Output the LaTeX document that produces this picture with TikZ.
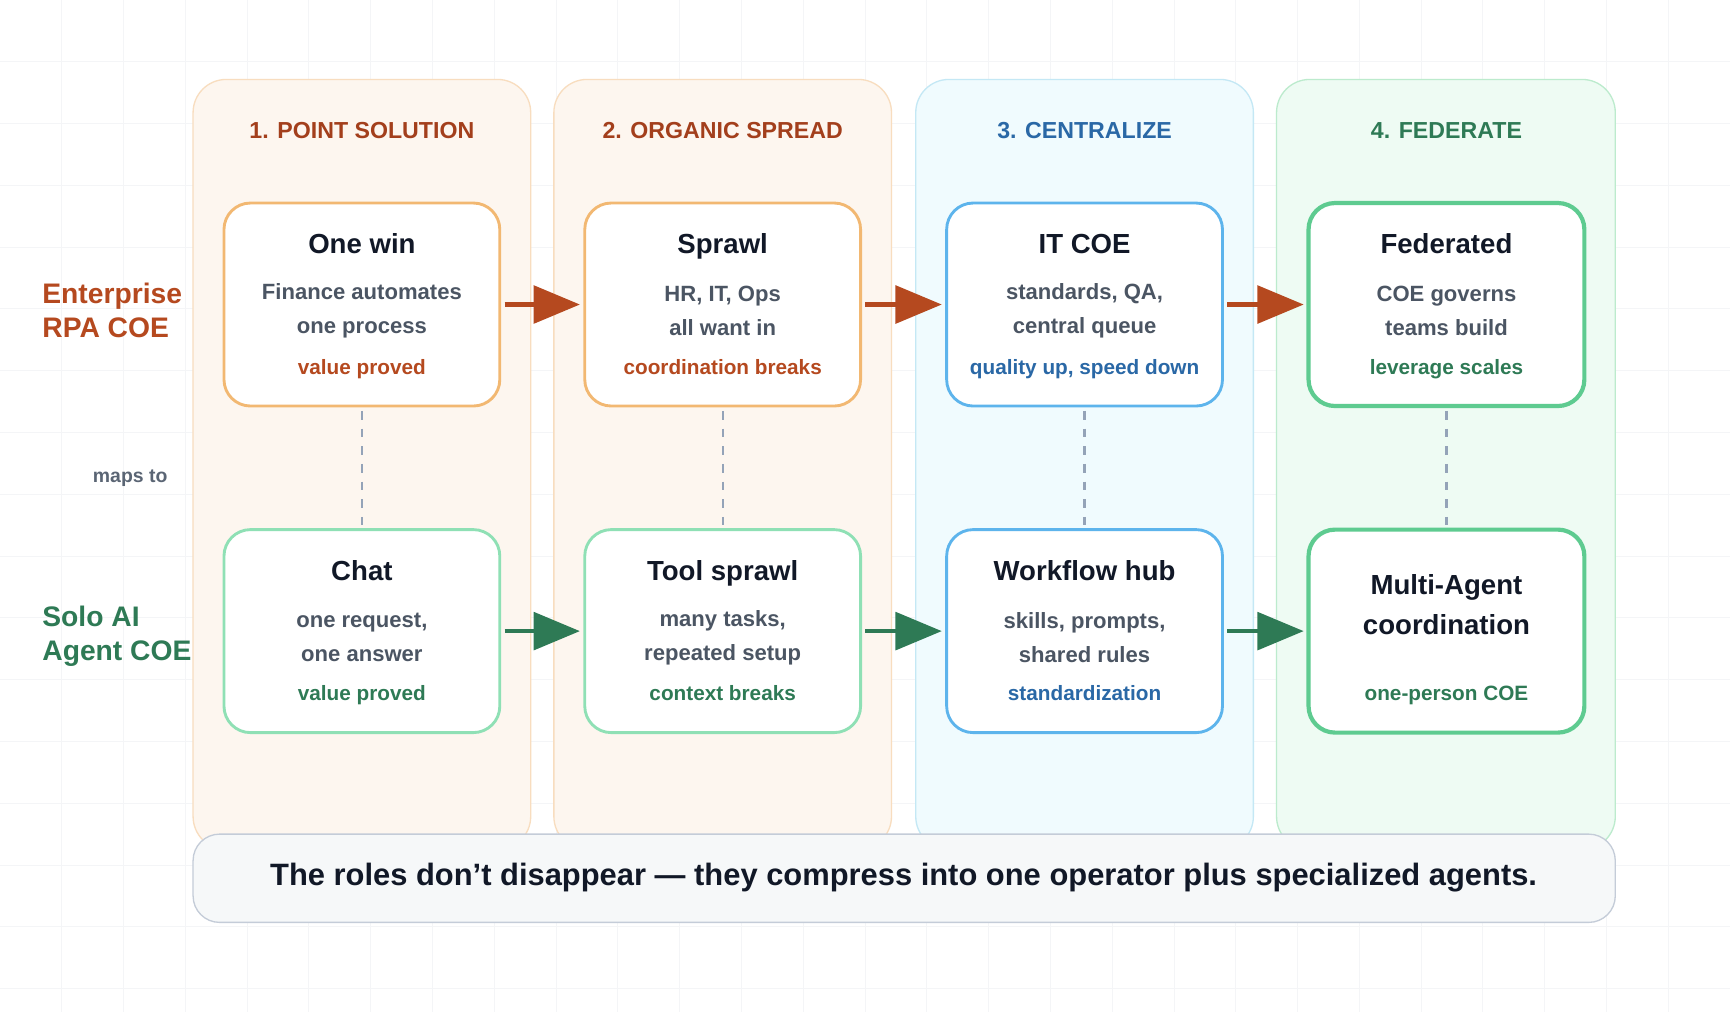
\documentclass[tikz,border=0pt]{standalone}
\usepackage{fontspec}
\setmainfont{Liberation Sans}
\usetikzlibrary{arrows.meta}
\definecolor{ocol}{HTML}{FDF6EF}\definecolor{oedge}{HTML}{F8DDBF}
\definecolor{bcol}{HTML}{F0FBFE}\definecolor{bedge}{HTML}{C4E8F5}
\definecolor{gcol}{HTML}{EEFBF3}\definecolor{gedge}{HTML}{BCEBCD}
\definecolor{obox}{HTML}{F2B872}\definecolor{mbox}{HTML}{8FE0B5}
\definecolor{bbox}{HTML}{5DB4EC}\definecolor{gbox}{HTML}{5ECB90}
\definecolor{otxt}{HTML}{B5491F}\definecolor{ohead}{HTML}{A33F1C}
\definecolor{btxt}{HTML}{2A68A6}\definecolor{gtxt}{HTML}{2E7A55}
\definecolor{dark}{HTML}{111827}\definecolor{body}{HTML}{4B5563}
\definecolor{gray}{HTML}{94A3B8}\definecolor{grid}{HTML}{F4F5F7}
\tikzset{
 col/.style={rounded corners=15pt,line width=0.6pt},
 box/.style={rounded corners=12pt,fill=white,line width=1.3pt},
 head/.style={font=\fontsize{10.5}{12}\selectfont\bfseries},
 ttl/.style={font=\fontsize{12.5}{15}\selectfont\bfseries,text=dark,text height=9pt,text depth=0pt},
 bd/.style={font=\fontsize{10}{15.5}\selectfont\bfseries,text=body,align=center},
 tag/.style={font=\fontsize{9.4}{11}\selectfont\bfseries,text height=7pt,text depth=0pt},
 side/.style={font=\fontsize{12.8}{15.5}\selectfont\bfseries,align=left,anchor=west},
 arr/.style={line width=2pt,-{Triangle[length=21pt,width=17pt]}},
 dsh/.style={gray,line width=1pt,dash pattern=on 4pt off 4pt},
}
\begin{document}
\begin{tikzpicture}[x=0.5pt,y=-0.5pt]
\useasboundingbox (0,0) rectangle (1568,917);
\fill[white] (0,0) rectangle (1568,917);
\foreach \i in {1,...,28} \draw[grid,line width=0.4pt] (\i*56,0) -- (\i*56,917);
\foreach \i in {1,...,16} \draw[grid,line width=0.4pt] (0,\i*56) -- (1568,\i*56);
% columns
\draw[col,fill=ocol,draw=oedge] (175,72) rectangle (481,770);
\draw[col,fill=ocol,draw=oedge] (502,72) rectangle (808,770);
\draw[col,fill=bcol,draw=bedge] (830,72) rectangle (1136,770);
\draw[col,fill=gcol,draw=gedge] (1157,72) rectangle (1464,770);
\node[head,text=ohead] (h1) at (328,118) {1. POINT SOLUTION};
\node[head,text=ohead] (h2) at (655,118) {2. ORGANIC SPREAD};
\node[head,text=btxt] (h3) at (983,118) {3. CENTRALIZE};
\node[head,text=gtxt] (h4) at (1311,118) {4. FEDERATE};
% boxes
\newcommand\mybox[9]{%
 \draw[box,draw=#4,line width=#9] (#2-125,#3-92) rectangle (#2+125,#3+92);
 \node[minimum width=125pt,minimum height=92pt] (#1) at (#2,#3) {};
 \node[ttl] (#1t) at (#2,#3-55) {#5};
 \node[bd] (#1b) at (#2,#3+6) {#6};
 \node[tag,text=#8] (#1g) at (#2,#3+56) {#7};}
\mybox{a1}{328}{276}{obox}{One win}{Finance automates\\one process}{value proved}{otxt}{1.3pt}
\mybox{a2}{655}{276}{obox}{Sprawl}{HR, IT, Ops\\all want in}{coordination breaks}{otxt}{1.3pt}
\mybox{a3}{983}{276}{bbox}{IT COE}{standards, QA,\\central queue}{quality up, speed down}{btxt}{1.3pt}
\mybox{a4}{1311}{276}{gbox}{Federated}{COE governs\\teams build}{leverage scales}{gtxt}{1.9pt}
\mybox{b1}{328}{572}{mbox}{Chat}{one request,\\one answer}{value proved}{gtxt}{1.3pt}
\mybox{b2}{655}{572}{mbox}{Tool sprawl}{many tasks,\\repeated setup}{context breaks}{gtxt}{1.3pt}
\mybox{b3}{983}{572}{bbox}{Workflow hub}{skills, prompts,\\shared rules}{standardization}{btxt}{1.3pt}
\draw[box,draw=gbox,line width=1.9pt] (1186,480) rectangle (1436,664);
\node[minimum width=125pt,minimum height=92pt] (b4) at (1311,572) {};
\node[bd,text=dark,font=\fontsize{12.5}{18}\selectfont\bfseries] (b4t) at (1311,548) {Multi-Agent\\coordination};
\node[tag,text=gtxt] (b4g) at (1311,628) {one-person COE};
% arrows
\foreach \a/\b in {a1/a2,a2/a3,a3/a4} \draw[arr,otxt] ([xshift=2pt]\a.east) -- ([xshift=-2pt]\b.west);
\foreach \a/\b in {b1/b2,b2/b3,b3/b4} \draw[arr,gtxt] ([xshift=2pt]\a.east) -- ([xshift=-2pt]\b.west);
\foreach \i in {1,...,4} \draw[dsh] ([yshift=-2pt]a\i.south) -- ([yshift=2pt]b\i.north);
% side labels
\node[side,text=otxt,inner sep=0pt] (l1) at (38,281) {Enterprise\\RPA COE};
\node[side,text=gtxt,inner sep=0pt] (l2) at (38,577) {Solo AI\\Agent COE};
\node[font=\fontsize{8.8}{10}\selectfont\bfseries,text=body!80!gray] (mt) at (118,433) {maps to};
% banner
\draw[rounded corners=12pt,fill=gray!8,draw=gray!55,line width=0.6pt] (175,756) rectangle (1464,836);
\node[font=\fontsize{14}{16}\selectfont\bfseries,text=dark] (ban) at (819,795) {The roles don’t disappear — they compress into one operator plus specialized agents.};
\end{tikzpicture}
\end{document}
